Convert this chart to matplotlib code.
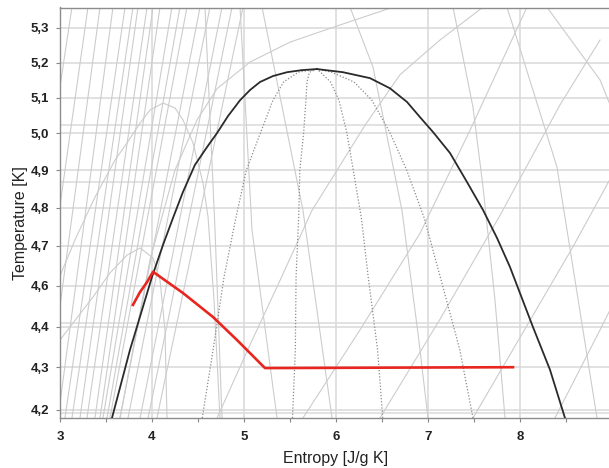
import numpy as np
import matplotlib
matplotlib.use("Agg")
import matplotlib.pyplot as plt

plt.rcParams['font.family'] = ['Liberation Sans', 'DejaVu Sans']

# ---------------- axes / ticks ----------------
X_TICKS = [3, 4, 5, 6, 7, 8, 9]
X_LABELS = ["3", "4", "5", "6", "7", "8", "9"]
X_MINOR = [3.5, 4.5, 5.5, 6.5, 7.5, 8.5]
Y_TICKS = [4.2, 4.3, 4.4, 4.6, 4.7, 4.8, 4.9, 5.0, 5.1, 5.2, 5.3]
Y_LABELS = ["4,2", "4,3", "4,4", "4,6", "4,7", "4,8", "4,9", "5,0", "5,1", "5,2", "5,3"]
# calibration of the source chart's non-uniform temperature axis
SCALE_T = [3.5, 4.2, 4.3, 4.4, 4.6, 4.7, 4.8, 4.9, 5.0, 5.1, 5.2, 5.3, 6.0]
SCALE_U = [-708.9, -410.0, -367.3, -326.7, -285.7, -246.0, -207.7, -170.0,
           -133.0, -97.7, -62.7, -27.7, 217.3]
X_RANGE = [3.0, 9.0]
Y_RANGE = [4.181, 5.358]

# ---------------- saturation dome ----------------
SAT_LIQ_S = [3.565, 3.761, 4.0, 4.12, 4.228, 4.337, 4.467, 4.598, 4.707, 4.826, 4.957,
             5.065, 5.174, 5.315, 5.467, 5.630, 5.793]
SAT_LIQ_T = [4.181, 4.343, 4.622, 4.703, 4.773, 4.842, 4.914, 4.962, 5.0, 5.048, 5.093,
             5.122, 5.145, 5.162, 5.173, 5.179, 5.182]
SAT_VAP_S = [5.793, 6.076, 6.37, 6.587, 6.772, 6.913, 7.054, 7.239, 7.424, 7.598, 7.75,
             7.891, 8.141, 8.326, 8.489]
SAT_VAP_T = [5.182, 5.173, 5.156, 5.127, 5.088, 5.045, 5.003, 4.946, 4.868, 4.794, 4.721,
             4.647, 4.399, 4.294, 4.181]

# ---------------- vapour-quality lines (dotted) ----------------
Q_T = [4.181, 4.343, 4.622, 4.773, 4.9, 5.0, 5.093, 5.145, 5.173, 5.182]
Q20_S = [4.546, 4.664, 4.783, 4.911, 5.026, 5.178, 5.315, 5.430, 5.589, 5.793]
Q40_S = [5.527, 5.558, 5.566, 5.594, 5.607, 5.648, 5.673, 5.685, 5.711, 5.793]
Q60_S = [6.508, 6.452, 6.350, 6.276, 6.187, 6.119, 6.032, 5.941, 5.832, 5.793]
Q80_S = [7.489, 7.346, 7.133, 6.959, 6.768, 6.589, 6.390, 6.196, 5.954, 5.793]

# ---------------- process path (red) ----------------
RED_S = [3.793, 3.87, 3.946, 4.011, 4.337, 4.663, 4.924, 5.228, 7.924]
RED_T = [4.506, 4.569, 4.609, 4.635, 4.564, 4.447, 4.367, 4.298, 4.300]

# ---------------- background property lines (grey) ----------------
STEEP_T = [4.181, 5.359]
LIQ_S_BOT = [2.239, 2.457, 2.674, 2.837, 2.978, 3.054, 3.130, 3.217, 3.293, 3.380,
             3.435, 3.467, 3.511, 3.543]
LIQ_S_TOP = [2.891, 3.130, 3.304, 3.435, 3.576, 3.707, 3.793, 3.848, 3.946, 4.011,
             4.087, 4.217, 4.304, 4.380]
TP_S_BOT = [3.652, 3.739, 3.870, 3.957, 4.054]
TP_S_TOP = [4.522, 4.630, 4.761, 4.870, 4.989]

ARC1_S = [2.891, 3.163, 3.380, 3.598, 3.728, 3.870, 3.978, 4.120, 4.250, 4.337, 4.446,
          4.554, 4.609, 4.674, 4.739]
ARC1_T = [4.530, 4.716, 4.828, 4.927, 4.973, 5.028, 5.065, 5.085, 5.071, 5.037, 4.973,
          4.866, 4.776, 4.530, 4.181]
ARC2_S = [2.783, 3.0, 3.359, 3.543, 3.728, 3.870, 4.011, 4.087, 4.141, 4.163]
ARC2_T = [4.294, 4.367, 4.545, 4.632, 4.677, 4.695, 4.670, 4.614, 4.392, 4.181]

C1_S, C1_T = [4.576, 4.685, 4.761], [5.359, 4.742, 4.181]
C2_S, C2_T = [5.196, 5.641, 5.957], [5.359, 4.793, 4.181]
C3_S, C3_T = [6.152, 6.402, 6.717, 6.891, 7.0], [5.359, 5.188, 4.793, 4.384, 4.181]
C4_S, C4_T = [7.272, 7.489, 7.598, 7.728, 7.837], [5.359, 5.073, 4.855, 4.530, 4.181]
C5_S, C5_T = [7.859, 8.402, 8.837], [5.359, 4.908, 4.181]
C6_S, C6_T = [8.293, 8.870, 9.087], [5.359, 5.151, 5.010]
C7_S, C7_T = [4.957, 5.087, 5.359], [5.359, 4.742, 4.181]

DA_S = [4.707, 5.065, 5.391, 5.739, 5.967, 6.315, 6.696, 7.130, 7.598]
DA_T = [4.181, 4.355, 4.613, 4.793, 4.882, 5.022, 5.166, 5.265, 5.359]
DB_S = [5.641, 6.261, 6.913, 7.457, 8.076]
DB_T = [4.181, 4.392, 4.733, 5.008, 5.359]
DC_S = [7.489, 8.576, 9.033]
DC_T = [4.181, 4.698, 4.900]
DD_S = [6.478, 7.130, 7.783, 8.435, 8.870]
DD_T = [4.181, 4.436, 4.780, 5.080, 5.265]
DE_S = [8.380, 8.870, 9.087]
DE_T = [4.181, 4.392, 4.579]
DTOP_S = [3.652, 3.978, 4.250, 4.489, 4.707, 5.065, 5.500, 6.043, 6.620]
DTOP_T = [4.181, 4.665, 4.900, 5.037, 5.126, 5.202, 5.259, 5.308, 5.359]

ISO_T = [5.023, 4.869, 4.42, 4.193]

# ---------------- figure ----------------
fig = plt.figure(figsize=(6.09, 4.68), dpi=100)
ax = fig.add_axes([60 / 609, 50 / 468, 552 / 609, 410.5 / 468])


def fwd(t):
    return np.interp(t, SCALE_T, SCALE_U)


def inv(u):
    return np.interp(u, SCALE_U, SCALE_T)


ax.set_yscale('function', functions=(fwd, inv))
ax.set_xlim(*X_RANGE)
ax.set_ylim(*Y_RANGE)

GREY = '#cccccc'
GLW = 0.8

for t in ISO_T:
    ax.axhline(t, color='#dddddd', lw=1.2, zorder=1)

for b, t in zip(LIQ_S_BOT, LIQ_S_TOP):
    ax.plot([b, t], STEEP_T, color=GREY, lw=GLW, zorder=2)
for b, t in zip(TP_S_BOT, TP_S_TOP):
    ax.plot([b, t], STEEP_T, color=GREY, lw=GLW, zorder=2)

curves = [(ARC1_S, ARC1_T), (ARC2_S, ARC2_T), (C1_S, C1_T), (C2_S, C2_T),
          (C3_S, C3_T), (C4_S, C4_T), (C5_S, C5_T), (C6_S, C6_T), (C7_S, C7_T),
          (DA_S, DA_T), (DB_S, DB_T), (DC_S, DC_T), (DD_S, DD_T), (DE_S, DE_T),
          (DTOP_S, DTOP_T)]
for s, t in curves:
    ax.plot(s, t, color=GREY, lw=GLW, zorder=2)

for qs in (Q20_S, Q40_S, Q60_S, Q80_S):
    ax.plot(qs, Q_T, color='#8a8a8a', lw=0.9, ls=(0, (1, 1.5)), zorder=3)

ax.plot(SAT_LIQ_S, SAT_LIQ_T, color='#2a2a2a', lw=1.3, zorder=4)
ax.plot(SAT_VAP_S, SAT_VAP_T, color='#2a2a2a', lw=1.3, zorder=4)

ax.plot(RED_S, RED_T, color='#e8261f', lw=1.9, zorder=5, solid_joinstyle='round')

# ticks & grid
ax.set_xticks(X_TICKS)
ax.set_xticklabels(X_LABELS)
ax.set_xticks(X_MINOR, minor=True)
ax.set_yticks(Y_TICKS)
ax.set_yticklabels(Y_LABELS)
ax.yaxis.set_minor_locator(matplotlib.ticker.NullLocator())
ax.grid(True, which='major', color='#d9d9d9', lw=1.1, zorder=0)
ax.set_axisbelow(True)

for lab in ax.get_xticklabels() + ax.get_yticklabels():
    lab.set_fontweight('bold')
    lab.set_fontsize(9.5)
    lab.set_color('#222222')
ax.tick_params(axis='x', which='both', length=3, width=0.8, color='#888888', pad=6)
ax.tick_params(axis='y', which='both', length=3, width=0.8, color='#888888', pad=5)

for sp in ax.spines.values():
    sp.set_color('#8c8c8c')
    sp.set_linewidth(1.0)

ax.set_xlabel('Entropy [J/g K]', fontsize=11.5, color='#222222', labelpad=6)
ax.set_ylabel('Temperature [K]', fontsize=11.5, color='#222222')
ax.yaxis.set_label_coords(-0.058, 0.475)

fig.savefig('out.png', dpi=100)
